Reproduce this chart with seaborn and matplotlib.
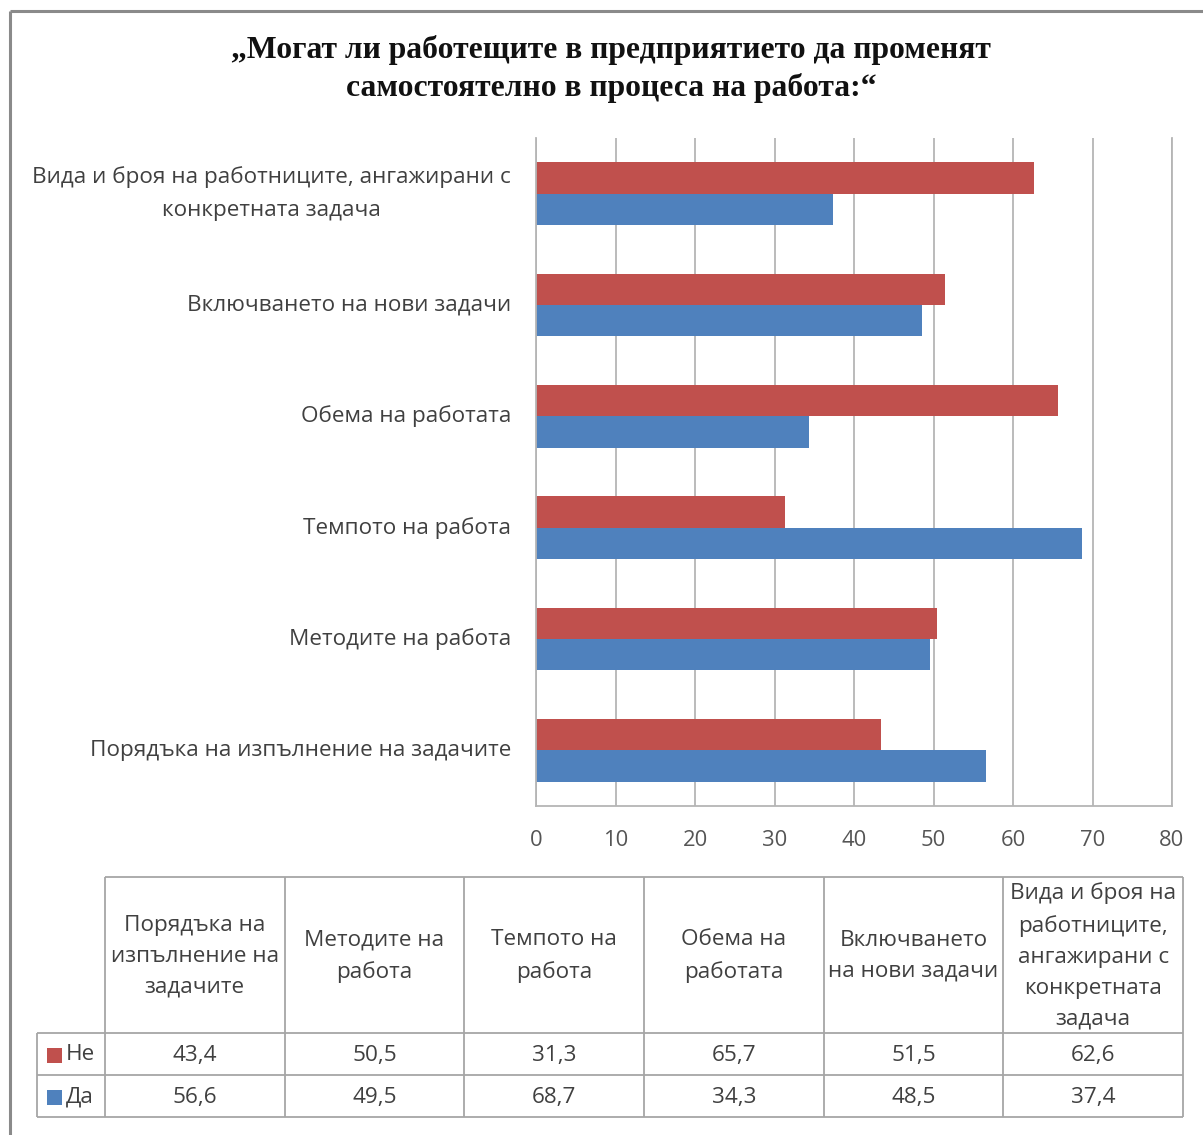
import textwrap

import matplotlib
matplotlib.use("Agg")
import matplotlib.pyplot as plt
import pandas as pd
import seaborn as sns

# ---- data -------------------------------------------------------------
categories = [
    "Порядъка на изпълнение на задачите",
    "Методите на работа",
    "Темпото на работа",
    "Обема на работата",
    "Включването на нови задачи",
    "Вида и броя на работниците, ангажирани с конкретната задача",
]
table_headers = [
    "Порядъка на\nизпълнение на\nзадачите",
    "Методите на\nработа",
    "Темпото на\nработа",
    "Обема на\nработата",
    "Включването\nна нови задачи",
    "Вида и броя на\nработниците,\nангажирани с\nконкретната\nзадача",
]
series_names = ["Не", "Да"]
values_no = [43.4, 50.5, 31.3, 65.7, 51.5, 62.6]
values_yes = [56.6, 49.5, 68.7, 34.3, 48.5, 37.4]
x_ticks = [0, 10, 20, 30, 40, 50, 60, 70, 80]
title = ("„Могат ли работещите в предприятието да променят\n"
         "самостоятелно в процеса на работа:“")

series_colors = {"Не": "#C0504D", "Да": "#4F81BD"}

# ---- style ------------------------------------------------------------
sns.set_theme(style="white")
plt.rcParams["font.family"] = ["Open Sans", "DejaVu Sans"]

W, H = 1203, 1135
fig = plt.figure(figsize=(W / 100, H / 100), dpi=100)
fig.patch.set_facecolor("white")

TEXT = "#404040"
GRID = "#b5b5b5"
FS = 16.2

# ---- bar chart --------------------------------------------------------
df = pd.DataFrame({
    "category": categories * 2,
    "series": ["Не"] * len(categories) + ["Да"] * len(categories),
    "value": values_no + values_yes,
})

ax = fig.add_axes([536 / W, 1 - 806 / H, (1172 - 536) / W, (806 - 138) / H])
order = categories[::-1]
sns.barplot(
    data=df, y="category", x="value", hue="series",
    order=order, hue_order=series_names, palette=series_colors,
    orient="h", width=0.56, saturation=1, gap=0,
    legend=False, ax=ax, linewidth=0,
)

ax.set_xlim(0, 80)
ax.set_xticks(x_ticks)
ax.set_xticklabels([str(t) for t in x_ticks], fontsize=15.8, color="#555555")
ax.set_yticks(range(len(order)))
ax.set_yticklabels([textwrap.fill(c, 42) for c in order],
                   fontsize=FS, color=TEXT)
for lbl in ax.get_yticklabels():
    lbl.set_multialignment("center")
    lbl.set_linespacing(1.75)
    lbl.set_verticalalignment("center")
ax.tick_params(axis="x", length=0, pad=17)
ax.tick_params(axis="y", length=0, pad=18)
ax.set_xlabel("")
ax.set_ylabel("")
ax.grid(axis="x", color=GRID, linewidth=1.3)
ax.grid(axis="y", visible=False)
ax.set_axisbelow(True)
ax.spines["top"].set_visible(False)
for side in ("left", "bottom", "right"):
    ax.spines[side].set_color(GRID)
    ax.spines[side].set_linewidth(1.3)

fig.text(611 / W, 1 - 69 / H, title, ha="center", va="center",
         family="Liberation Serif", fontweight="bold", fontsize=22.8,
         color="#111111", linespacing=1.34)

# ---- data table -------------------------------------------------------
tab = fig.add_axes([0, 0, 1, 1])
tab.set_xlim(0, W)
tab.set_ylim(H, 0)
tab.axis("off")
tab.patch.set_alpha(0)

line_kw = dict(color="#a6a6a6", linewidth=1.3, solid_capstyle="butt")
left_leg, left_tab, right_tab = 37, 105, 1183
top_hdr, hdr_bot, row1_bot, row2_bot = 877, 1033, 1075, 1117
n_cols = len(categories)
col_w = (right_tab - left_tab) / n_cols
edges = [left_tab + i * col_w for i in range(n_cols + 1)]

tab.plot([left_tab, right_tab], [top_hdr, top_hdr], **line_kw)
for yy in (hdr_bot, row1_bot, row2_bot):
    tab.plot([left_leg, right_tab], [yy, yy], **line_kw)
tab.plot([left_leg, left_leg], [hdr_bot, row2_bot], **line_kw)
for xx in edges:
    tab.plot([xx, xx], [top_hdr, row2_bot], **line_kw)

for i, hdr in enumerate(table_headers):
    cx = (edges[i] + edges[i + 1]) / 2
    tab.text(cx, (top_hdr + hdr_bot) / 2 + 1, hdr, ha="center", va="center",
             fontsize=FS, color=TEXT, linespacing=1.62)

rows = [(series_names[0], values_no), (series_names[1], values_yes)]
row_centers = [(hdr_bot + row1_bot) / 2 + 1, (row1_bot + row2_bot) / 2 + 1]
for (name, vals), cy in zip(rows, row_centers):
    tab.add_patch(plt.Rectangle((47, cy - 7.5), 15, 15,
                                color=series_colors[name], lw=0))
    tab.text(66, cy, name, ha="left", va="center", fontsize=FS, color=TEXT)
    for i, v in enumerate(vals):
        cx = (edges[i] + edges[i + 1]) / 2
        tab.text(cx, cy, f"{v:.1f}".replace(".", ","), ha="center",
                 va="center", fontsize=FS, color=TEXT)

# outer chart frame
frame_kw = dict(color="#8a8a8a", linewidth=2.2, solid_capstyle="butt")
tab.plot([10, 10], [11, H], **frame_kw)
tab.plot([10, W], [11, 11], **frame_kw)

fig.savefig("out.png", dpi=100, facecolor="white")
